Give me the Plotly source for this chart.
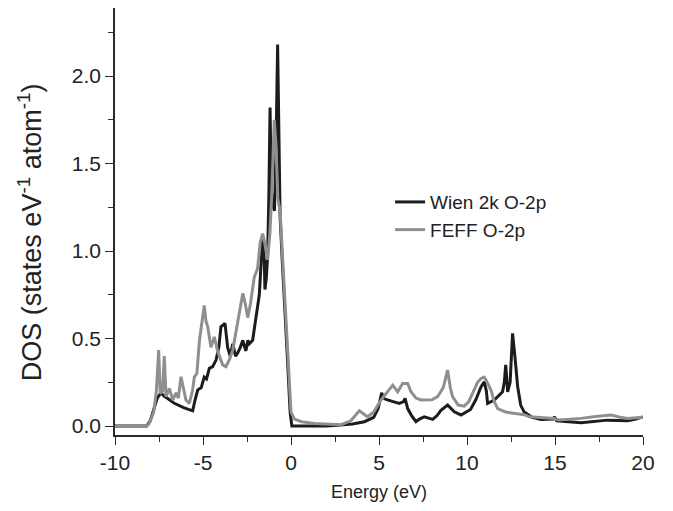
import plotly.graph_objects as go

# Wien 2k O-2p (black)
wien_x = [-10, -8.2, -8.0, -7.8, -7.6, -7.39, -7.2, -7.0, -6.63, -6.1, -5.59, -5.45, -5.3, -5.1,
          -4.93, -4.8, -4.64, -4.45, -4.26, -4.1, -3.98, -3.75, -3.6, -3.45, -3.31, -3.15, -3.03,
          -2.88, -2.74, -2.6, -2.56, -2.45, -2.37, -2.18, -2.09, -1.9, -1.8, -1.7, -1.61, -1.52,
          -1.48, -1.40, -1.33, -1.26, -1.19, -1.12, -1.05, -0.94, -0.85, -0.76, -0.68, -0.62,
          -0.5, -0.38, -0.19, -0.05, 0.05, 1.0, 2.0, 2.84, 3.5, 4.17, 4.7, 4.95, 5.15, 5.25, 5.4,
          5.8, 6.15, 6.4, 6.48, 6.63, 6.85, 7.1, 7.3, 7.57, 8.05, 8.3, 8.52, 8.9, 9.1, 9.28, 9.66,
          10.2, 10.5, 10.8, 10.98, 11.1, 11.17, 11.35, 11.55, 12.02, 12.12, 12.2, 12.31, 12.45,
          12.59, 12.72, 12.88, 13.05, 13.25, 13.7, 14.2, 14.9, 14.96, 15.1, 16.48, 17.99, 19.13,
          19.6, 19.98]
wien_y = [0.0, 0.0, 0.03, 0.09, 0.16, 0.19, 0.17, 0.158, 0.13, 0.105, 0.087, 0.15, 0.206, 0.22,
          0.28, 0.27, 0.33, 0.34, 0.377, 0.45, 0.567, 0.587, 0.45, 0.40, 0.47, 0.40, 0.417,
          0.45, 0.49, 0.44, 0.43, 0.49, 0.47, 0.49, 0.55, 0.68, 0.75, 0.93, 1.08, 0.95,
          0.78, 0.85, 0.97, 1.3, 1.82, 1.35, 1.27, 1.23, 1.6, 2.18, 1.6, 1.2,
          0.95, 0.74, 0.36, 0.08, 0.0, 0.0, 0.0, 0.006, 0.012, 0.025, 0.05, 0.1, 0.19, 0.16, 0.152,
          0.14, 0.13, 0.14, 0.158, 0.1, 0.06, 0.025, 0.04, 0.053, 0.038, 0.06, 0.09, 0.12, 0.1, 0.082, 0.063,
          0.095, 0.15, 0.225, 0.253, 0.2, 0.13, 0.14, 0.149, 0.196, 0.25, 0.35, 0.196, 0.25,
          0.53, 0.4, 0.225, 0.12, 0.08, 0.05, 0.038, 0.04, 0.053, 0.03, 0.019, 0.034, 0.03,
          0.04, 0.053]

# FEFF O-2p (gray)
feff_x = [-10, -8.2, -8.05, -7.8, -7.65, -7.52, -7.43, -7.3, -7.2, -7.1, -6.91, -6.72, -6.53, -6.4,
          -6.25, -6.1, -5.97, -5.78, -5.6, -5.49, -5.35, -5.2, -5.05, -4.93, -4.83, -4.73, -4.55,
          -4.36, -4.16, -3.88, -3.7, -3.5, -3.31, -3.1, -2.94, -2.74, -2.6, -2.46, -2.3, -2.09,
          -1.9, -1.75, -1.61, -1.5, -1.33, -1.2, -1.1, -0.95, -0.85, -0.75, -0.62, -0.5, -0.38,
          -0.19, 0.0, 0.2, 0.6, 1.33, 2.84, 3.4, 3.88, 4.35, 4.7, 5.11, 5.45, 5.78, 6.06, 6.34,
          6.63, 6.82, 7.1, 7.39, 8.0, 8.33, 8.65, 8.9, 9.05, 9.18, 9.5, 9.84, 10.1, 10.41, 10.6,
          10.8, 10.98, 11.15, 11.36, 11.55, 11.74, 12.2, 12.69, 13.25, 13.55, 14.96, 15.2, 16.48,
          17.3, 18.18, 18.7, 19.13, 19.98]
feff_y = [0.0, 0.0, 0.015, 0.08, 0.2, 0.434, 0.187, 0.2, 0.40, 0.168, 0.215, 0.149, 0.19, 0.16,
          0.282, 0.2, 0.149, 0.13, 0.2, 0.282, 0.3, 0.49, 0.62, 0.69, 0.6, 0.567, 0.45,
          0.51, 0.425, 0.35, 0.34, 0.38, 0.434, 0.55, 0.644, 0.758, 0.70, 0.62, 0.7, 0.85,
          0.9, 1.05, 1.10, 1.05, 0.95, 1.1, 1.31, 1.75, 1.6, 1.3, 1.23, 1.0, 0.76,
          0.38, 0.08, 0.04, 0.025, 0.015, 0.008, 0.03, 0.088, 0.053, 0.08, 0.149, 0.19, 0.234, 0.196, 0.244,
          0.244, 0.196, 0.16, 0.149, 0.15, 0.168, 0.22, 0.32, 0.22, 0.168, 0.12, 0.114, 0.14, 0.206, 0.25,
          0.272, 0.28, 0.25, 0.206, 0.14, 0.1, 0.08, 0.072, 0.065, 0.053, 0.044, 0.035, 0.044,
          0.055, 0.063, 0.05, 0.044, 0.05]

x_ticks = [-10, -5, 0, 5, 10, 15, 20]
y_ticks = [0.0, 0.5, 1.0, 1.5, 2.0]
y_labels = ["0.0", "0.5", "1.0", "1.5", "2.0"]
y_title = "DOS (states eV<sup>-1</sup> atom<sup>-1</sup>)"
x_title = "Energy (eV)"

FONT = "Liberation Sans, Arial, sans-serif"
AX = "#2a2a2a"
TXT = "#222222"

fig = go.Figure()
fig.add_trace(go.Scatter(x=wien_x, y=wien_y, mode="lines", name="Wien 2k O-2p",
                         line=dict(color="#1c1c1c", width=3)))
fig.add_trace(go.Scatter(x=feff_x, y=feff_y, mode="lines", name="FEFF O-2p",
                         line=dict(color="#8f8f8f", width=3)))

fig.update_layout(
    width=665, height=503,
    margin=dict(l=107, r=30, t=0, b=76),
    paper_bgcolor="white", plot_bgcolor="white",
    font=dict(family=FONT, color=TXT),
    showlegend=True,
    legend=dict(x=0.521, y=0.59, xanchor="left", yanchor="top",
                font=dict(size=19, family=FONT, color=TXT),
                bgcolor="rgba(0,0,0,0)"),
    xaxis=dict(range=[-10, 20], tickvals=x_ticks, ticktext=[str(v) for v in x_ticks],
               showgrid=False, zeroline=False, showline=True, linecolor=AX, linewidth=1.5,
               ticks="outside", ticklen=8, tickwidth=1.3, tickcolor=AX,
               tickfont=dict(size=21, family=FONT, color=TXT),
               minor=dict(dtick=2.5, ticks="outside", ticklen=5, tickwidth=1.2, tickcolor=AX,
                          showgrid=False),
               title=dict(text=x_title, font=dict(size=18, family=FONT, color=TXT),
                          standoff=12)),
    yaxis=dict(range=[-0.051, 2.389], tickvals=y_ticks, ticktext=y_labels,
               showgrid=False, zeroline=False, showline=True, linecolor=AX, linewidth=1.5,
               ticks="outside", ticklen=8, tickwidth=1.3, tickcolor=AX,
               tickfont=dict(size=21, family=FONT, color=TXT),
               minor=dict(dtick=0.25, tick0=0, ticks="outside", ticklen=5, tickwidth=1.2,
                          tickcolor=AX, showgrid=False)),
    annotations=[dict(text=y_title, textangle=-90, xref="paper", yref="paper",
                      x=-0.161, y=0.475, xanchor="center", yanchor="middle", showarrow=False,
                      font=dict(size=27, family=FONT, color=TXT))],
)

fig.write_html("out.html")
